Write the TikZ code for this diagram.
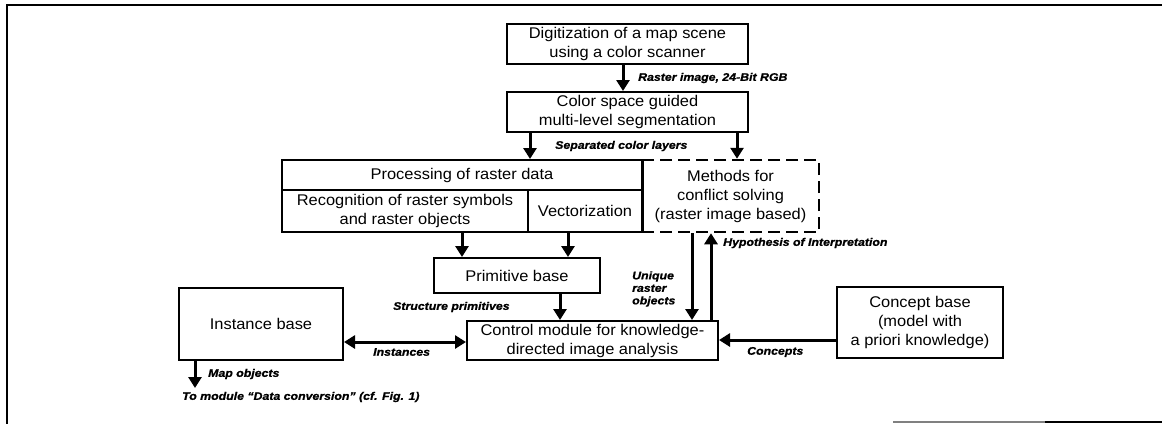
\documentclass[tikz,border=0pt]{standalone}
\usepackage{fontspec}
\setmainfont{Liberation Sans}[FakeStretch=1.06]
\newfontfamily\lblfont{Liberation Sans}[FakeStretch=1.12,Ligatures=TeX,BoldItalicFeatures={FakeBold=1}]
\usetikzlibrary{arrows.meta}
\begin{document}
\begin{tikzpicture}[x=1pt,y=-1pt,
  box/.style={draw,line width=2pt,inner sep=0pt,align=center,
    font=\fontsize{15.5}{19}\selectfont},
  dbox/.style={box,dashed,dash pattern=on 12pt off 6pt,line width=2.5pt},
  arr/.style={line width=3pt,-{Triangle[length=11pt,width=13pt]}},
  darr/.style={line width=3pt,{Triangle[length=11pt,width=13pt]}-{Triangle[length=11pt,width=13pt]}},
  lbl/.style={anchor=west,inner sep=0pt,align=left,
    font=\lblfont\bfseries\itshape\fontsize{11}{12.5}\selectfont},
  frame/.style={line width=1.5pt}]
\useasboundingbox (0,0) rectangle (1162,424);
% frame
\draw[frame] (1162,5) -- (7,5) -- (7,424);
\draw[frame,gray] (893,422) -- (1045,422);
\draw[frame] (1045,422) -- (1162,422);
% boxes
\node[box,minimum width=241,minimum height=40] (dig) at (627.5,44)
  {Digitization of a map scene\\using a color scanner};
\node[box,minimum width=241,minimum height=40] (col) at (627.5,112)
  {Color space guided\\multi-level segmentation};
\node[box,minimum width=360,minimum height=30] (proct) at (462,175)
  {Processing of raster data};
\node[box,minimum width=246,minimum height=42] (recog) at (405,211)
  {Recognition of raster symbols\\and raster objects};
\node[box,minimum width=114,minimum height=42] (vect) at (585,211)
  {Vectorization};
\node[dbox,minimum width=177,minimum height=72] (meth) at (730.5,196)
  {Methods for\\conflict solving\\(raster image based)};
\draw[line width=2pt] (proct.north east) -- (vect.south east);
\node[box,minimum width=166,minimum height=35] (prim) at (517,275.5)
  {Primitive base};
\node[box,minimum width=251,minimum height=39] (ctrl) at (592.5,340.5)
  {Control module for knowledge-\\directed image analysis};
\node[box,minimum width=164,minimum height=72] (inst) at (261,324)
  {Instance base};
\node[box,minimum width=166,minimum height=71] (conc) at (920,322.5)
  {Concept base\\(model with\\a priori knowledge)};
% helper coordinates
\coordinate (xa) at (623,0);
\coordinate (xb) at (530,0);
\coordinate (xc) at (737,0);
\coordinate (xd) at (462,0);
\coordinate (xe) at (568,0);
\coordinate (xf) at (560,0);
\coordinate (xu) at (692,0);
\coordinate (xh) at (711,0);
\coordinate (xm) at (195,0);
\coordinate (yi) at (0,342);
\coordinate (yc) at (0,340);
\coordinate (mend) at (195,388);
% connectors
\draw[arr] (dig.south -| xa) -- (col.north -| xa);
\draw[arr] (col.south -| xb) -- (proct.north -| xb);
\draw[arr] (col.south -| xc) -- (meth.north -| xc);
\draw[arr] (recog.south -| xd) -- (prim.north -| xd);
\draw[arr] (vect.south -| xe) -- (prim.north -| xe);
\draw[arr] (prim.south -| xf) -- (ctrl.north -| xf);
\draw[arr] (meth.south -| xu) -- (ctrl.north -| xu);
\draw[arr] (ctrl.north -| xh) -- (meth.south -| xh);
\draw[darr] (inst.east |- yi) -- (ctrl.west |- yi);
\draw[arr] (conc.west |- yc) -- (ctrl.east |- yc);
\draw[arr] (inst.south -| xm) -- (mend);
% labels
\node[lbl] (l1) at (638,78) {Raster image, 24-Bit RGB};
\node[lbl] (l2) at (555,146) {Separated color layers};
\node[lbl] (l3) at (723,243) {Hypothesis of Interpretation};
\node[lbl] (l4) at (632,289) {Unique\\raster\\objects};
\node[lbl] (l5) at (393,307) {Structure primitives};
\node[lbl] (l6) at (373,352) {Instances};
\node[lbl] (l7) at (747,352) {Concepts};
\node[lbl] (l8) at (208,374) {Map objects};
\node[lbl] (l9) at (182,397) {To module “Data conversion” (cf. Fig. 1)};
\end{tikzpicture}
\end{document}
